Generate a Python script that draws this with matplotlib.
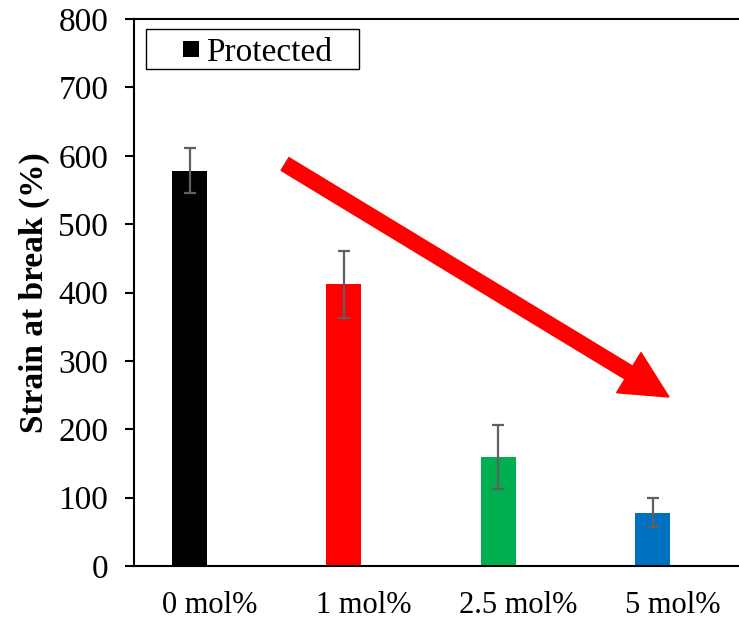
import matplotlib
matplotlib.use('Agg')
import matplotlib.pyplot as plt
from matplotlib.patches import Rectangle, FancyArrow
import numpy as np

# Datos: deformación a la rotura por concentración
categories = ['0 mol%', '1 mol%', '2.5 mol%', '5 mol%']
strain = [578, 412, 159, 78]
strain_err = [33, 49, 47, 21]
bar_colors = ['#000000', '#FF0000', '#00B050', '#0070C0']
legend_label = 'Protected'

plt.rcParams['font.family'] = ['Liberation Serif', 'DejaVu Serif']

fig = plt.figure(figsize=(7.39, 6.2), dpi=100, facecolor='white')
ax = fig.add_axes([134 / 739, 54 / 620, 605 / 739, 547 / 620])

x = np.arange(len(categories))
# las barras van desplazadas a la izquierda del centro de la categoría
xb = x - 0.128
ax.bar(xb, strain, width=0.227, color=bar_colors, zorder=2)
ax.errorbar(xb, strain, yerr=strain_err, fmt='none', ecolor='#606060',
            elinewidth=1.6, capsize=4, capthick=1.6, zorder=3)

ax.set_xlim(-0.488, 3.432)
ax.set_ylim(0, 800)
ax.set_yticks(np.arange(0, 801, 100))
ax.set_xticks(x)
ax.set_xticklabels(categories)

ax.spines['right'].set_visible(False)
for side in ['left', 'bottom', 'top']:
    ax.spines[side].set_linewidth(1.5)
ax.tick_params(axis='y', direction='out', length=6.5, width=1.5, pad=12, labelsize=24)
ax.tick_params(axis='x', length=0, pad=18, labelsize=22)

ax.set_ylabel('Strain at break (%)', fontsize=24, fontweight='bold', labelpad=6)

# Leyenda dibujada a mano (recuadro, cuadrado negro y texto), en pulgadas
inch = fig.dpi_scale_trans
fig.patches.append(Rectangle((1.46, 5.51), 2.13, 0.40, facecolor='white',
                             edgecolor='black', linewidth=1.0, transform=inch))
fig.patches.append(Rectangle((1.83, 5.63), 0.16, 0.16, facecolor='black',
                             edgecolor='none', transform=inch))
fig.text(2.06, 5.71, legend_label, fontsize=24, ha='left', va='center_baseline',
         transform=inch)

# Flecha roja de tendencia
x0, y0 = 2.85, (620 - 164) / 100
x1, y1 = 6.69, (620 - 397) / 100
arrow = FancyArrow(x0, y0, x1 - x0, y1 - y0, width=0.15, head_width=0.47,
                   head_length=0.47, length_includes_head=True,
                   color='#FF0000', transform=inch)
fig.patches.append(arrow)

fig.savefig('out.png', dpi=100)
plt.close(fig)
